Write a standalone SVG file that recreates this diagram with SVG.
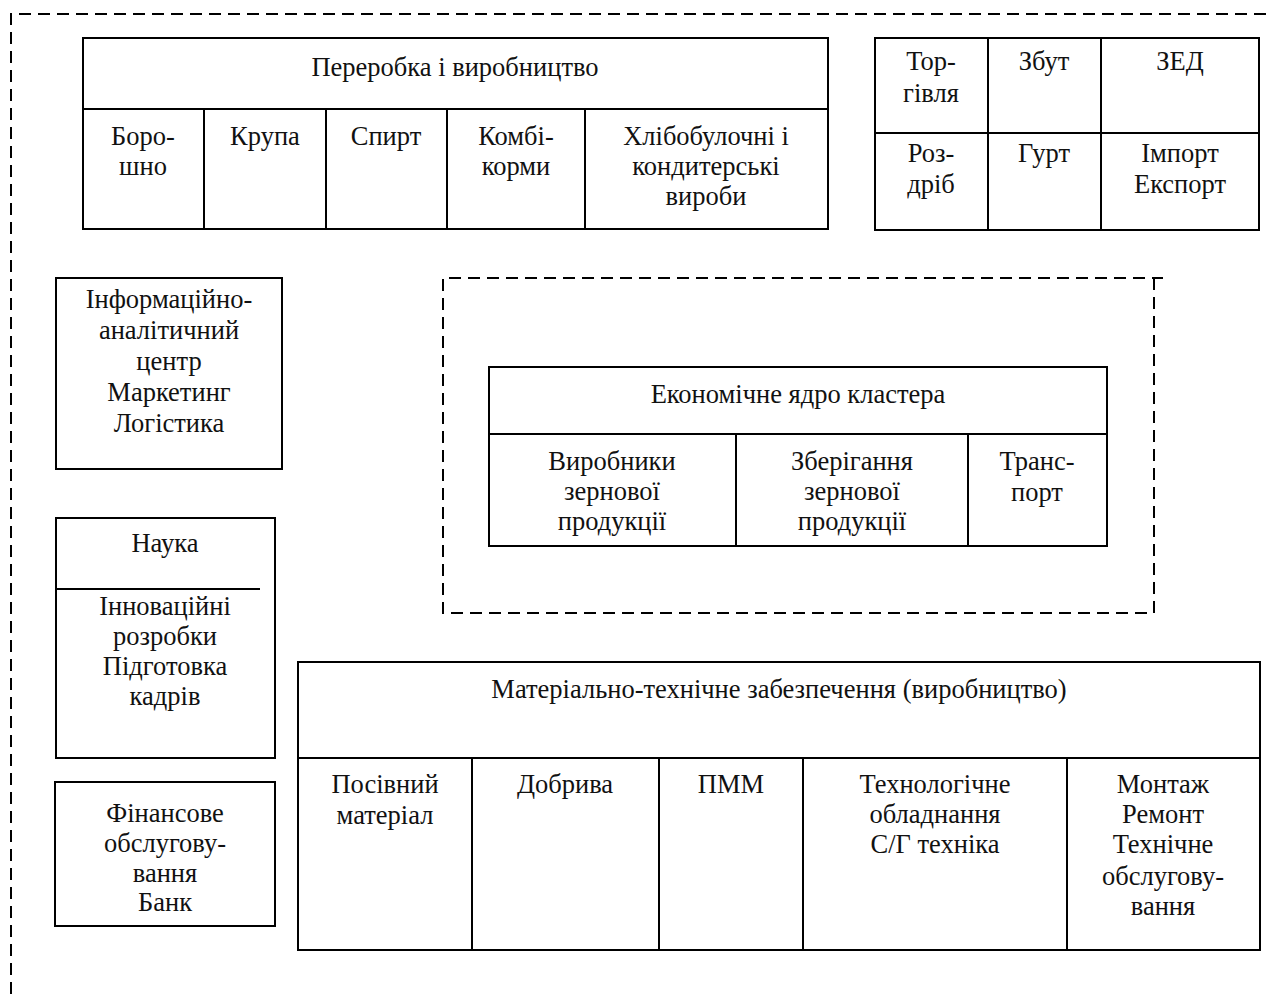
<svg xmlns="http://www.w3.org/2000/svg" width="1270" height="994" viewBox="0 0 1270 994">
<style>
.b{fill:none;stroke:#000;stroke-width:2}
.d{fill:none;stroke:#000;stroke-width:2;stroke-dasharray:12 7}
text{font-family:"Liberation Serif","Times New Roman",serif;font-size:26.5px;fill:#111;text-anchor:middle}
</style>
<rect width="1270" height="994" fill="#fff"/>
<g id="frames">
<path class="d" d="M11,994 V14 H1270"/>
<path class="d" d="M443,614 V278 H1163 M1154,278 V613 H443"/>
</g>
<g id="processing">
<rect class="b" x="83" y="38" width="745" height="191"/>
<path class="b" d="M83,109 H828 M204,109 V229 M326,109 V229 M447,109 V229 M585,109 V229"/>
<text x="455" y="76">Переробка і виробництво</text>
<text x="143" y="145">Боро-</text><text x="143" y="175">шно</text>
<text x="265" y="145">Крупа</text>
<text x="386" y="145">Спирт</text>
<text x="516" y="145">Комбі-</text><text x="516" y="175">корми</text>
<text x="706" y="145">Хлібобулочні і</text><text x="706" y="175">кондитерські</text><text x="706" y="205">вироби</text>
</g>
<g id="trade">
<rect class="b" x="875" y="38" width="384" height="192"/>
<path class="b" d="M875,133 H1259 M988,38 V230 M1101,38 V230"/>
<text x="931" y="70">Тор-</text><text x="931" y="102">гівля</text>
<text x="1044" y="70">Збут</text>
<text x="1180" y="70">ЗЕД</text>
<text x="931" y="162">Роз-</text><text x="931" y="193">дріб</text>
<text x="1044" y="162">Гурт</text>
<text x="1180" y="162">Імпорт</text><text x="1180" y="193">Експорт</text>
</g>
<g id="info">
<rect class="b" x="56" y="278" width="226" height="191"/>
<text x="169" y="308">Інформаційно-</text>
<text x="169" y="339">аналітичний</text>
<text x="169" y="370">центр</text>
<text x="169" y="401">Маркетинг</text>
<text x="169" y="432">Логістика</text>
</g>
<g id="core">
<rect class="b" x="489" y="367" width="618" height="179"/>
<path class="b" d="M489,434 H1107 M736,434 V546 M968,434 V546"/>
<text x="798" y="403">Економічне ядро кластера</text>
<text x="612" y="470">Виробники</text><text x="612" y="500">зернової</text><text x="612" y="530">продукції</text>
<text x="852" y="470">Зберігання</text><text x="852" y="500">зернової</text><text x="852" y="530">продукції</text>
<text x="1037" y="470">Транс-</text><text x="1037" y="501">порт</text>
</g>
<g id="science">
<rect class="b" x="56" y="518" width="219" height="240"/>
<path class="b" d="M56,589 H260"/>
<text x="165" y="552">Наука</text>
<text x="165" y="615">Інноваційні</text>
<text x="165" y="645">розробки</text>
<text x="165" y="675">Підготовка</text>
<text x="165" y="705">кадрів</text>
</g>
<g id="finance">
<rect class="b" x="55" y="782" width="220" height="144"/>
<text x="165" y="822">Фінансове</text>
<text x="165" y="852">обслугову-</text>
<text x="165" y="882">вання</text>
<text x="165" y="911">Банк</text>
</g>
<g id="material">
<rect class="b" x="298" y="662" width="962" height="288"/>
<path class="b" d="M298,758 H1260 M472,758 V950 M659,758 V950 M803,758 V950 M1067,758 V950"/>
<text x="779" y="698">Матеріально-технічне забезпечення (виробництво)</text>
<text x="385" y="793">Посівний</text><text x="385" y="824">матеріал</text>
<text x="565" y="793">Добрива</text>
<text x="731" y="793">ПММ</text>
<text x="935" y="793">Технологічне</text><text x="935" y="823">обладнання</text><text x="935" y="853">С/Г техніка</text>
<text x="1163" y="793">Монтаж</text><text x="1163" y="823">Ремонт</text><text x="1163" y="853">Технічне</text><text x="1163" y="885">обслугову-</text><text x="1163" y="915">вання</text>
</g>
<g id="connectors"></g>
</svg>
